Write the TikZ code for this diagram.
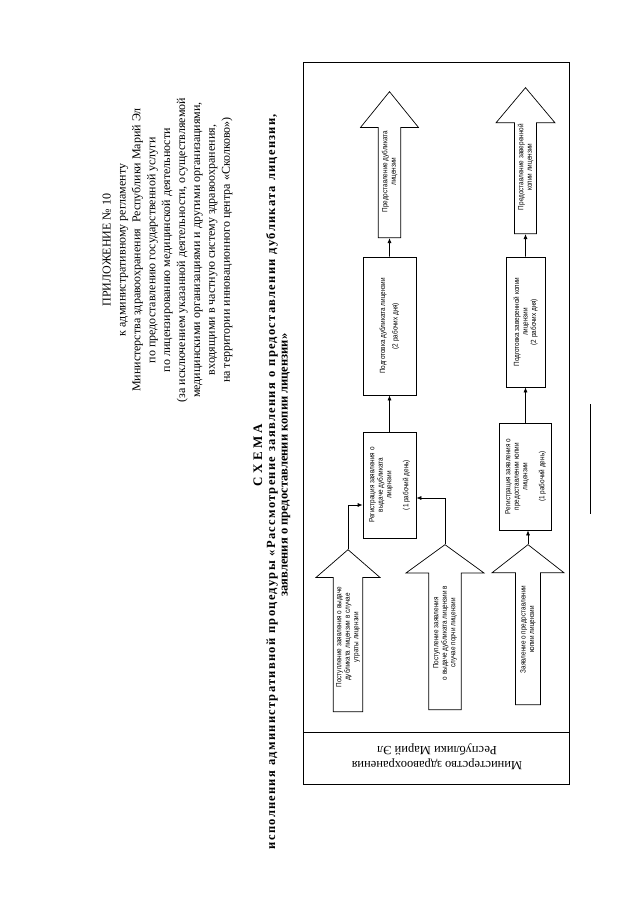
\documentclass[tikz,border=0pt]{standalone}
\usepackage{fontspec}
\setmainfont{Liberation Serif}
\newfontfamily\narrowfont[FakeStretch=0.85]{Liberation Sans}
\newfontfamily\widefont[LetterSpace=10]{Liberation Serif}
\usetikzlibrary{arrows.meta, positioning, shapes.arrows}

\begin{document}
\begin{tikzpicture}[
    x=1pt, y=-1pt,
    proc/.style={draw, line width=0.7pt, rotate=90, align=center, inner sep=2pt,
                 font=\narrowfont\fontsize{7.5}{8.5}\selectfont},
    bigarrow/.style={draw, line width=0.7pt, single arrow, rotate=90, anchor=tail,
                 align=center, inner sep=1pt, font=\narrowfont\fontsize{7.5}{8.5}\selectfont},
    hdr/.style={rotate=90, align=center, font=\fontsize{12}{14.9}\selectfont},
    link/.style={->, line width=0.7pt},
    >={Latex[length=5pt,width=4pt]}
]
\useasboundingbox (0,0) rectangle (640,905);

% heading
\node[hdr] (annex) at (167.5,250) {ПРИЛОЖЕНИЕ № 10\\
к административному регламенту\\
Министерства здравоохранения\ \ Республики Марий Эл\\
по предоставлению государственной услуги\\
по лицензированию медицинской деятельности\\
(за исключением указанной деятельности, осуществляемой\\
медицинскими организациями и другими организациями,\\
входящими в частную систему здравоохранения,\\
на территории инновационного центра «Сколково»)};

\node[hdr, font=\bfseries\fontsize{13}{14}\selectfont] (schema) at (258,455) {С Х Е М А};
\node[hdr, font=\widefont\bfseries\fontsize{12.5}{14}\selectfont] (title) at (272,481.5)
  {\makebox[735pt][s]{исполнения административной процедуры «Рассмотрение заявления о предоставлении дубликата лицензии,}};
\node[hdr, font=\bfseries\fontsize{12.5}{14}\selectfont] (title2) at (286,465)
  {заявления о предоставлении копии лицензии»};

% lane
\draw[line width=0.7pt] (303,62) rectangle (569,784);
\draw[line width=0.7pt] (303,732) -- (569,732);
\node[rotate=180, align=center, font=\fontsize{12.5}{15}\selectfont] (ministry) at (437,757)
  {Министерство здравоохранения\\Республики Марий Эл};

% inputs
\node[bigarrow, minimum height=162pt, minimum width=64pt, single arrow head extend=15.5pt,
      single arrow tip angle=98] (in1) at (348,712)
  {Поступление заявления о выдаче\\дубликата лицензии в случае\\утраты лицензии};
\node[bigarrow, minimum height=165pt, minimum width=78pt, single arrow head extend=18.5pt,
      single arrow tip angle=108] (in2) at (445,710)
  {Поступление заявления\\о выдаче дубликата лицензии в\\случае порчи лицензии};
\node[bigarrow, minimum height=160pt, minimum width=72pt, single arrow head extend=17pt,
      single arrow tip angle=104] (in3) at (528,705)
  {Заявление о предоставлении\\копии лицензии};

% steps
\node[proc, minimum width=106pt, minimum height=53pt] (reg1) at (389.5,485)
  {Регистрация заявления о\\выдаче дубликата\\лицензии\\[8.5pt](1 рабочий день)};
\node[proc, minimum width=138pt, minimum height=53pt] (prep1) at (389.5,326)
  {Подготовка дубликата лицензии\\[4pt](2 рабочих дня)};
\node[proc, minimum width=107pt, minimum height=52pt] (reg2) at (525.5,476.5)
  {Регистрация заявления о\\предоставлении копии\\лицензии\\[8.5pt](1 рабочий день)};
\node[proc, minimum width=130pt, minimum height=39pt] (prep2) at (525.5,322)
  {Подготовка заверенной копии\\лицензии\\(2 рабочих дня)};

% outputs
\node[bigarrow, minimum height=146pt, minimum width=58pt, single arrow head extend=14.5pt,
      single arrow tip angle=78] (out1) at (389.5,238)
  {Предоставление дубликата\\лицензии};
\node[bigarrow, minimum height=146pt, minimum width=59pt, single arrow head extend=15.5pt,
      single arrow tip angle=80] (out2) at (525.5,234)
  {Предоставление заверенной\\копии лицензии};

\foreach \a/\b in {reg1/prep1, prep1/out1, reg2/prep2, prep2/out2}
  \draw[link] (\a) -- (\b);
\draw[link] (in1.tip) |- ([yshift=-20pt]reg1.north);
\draw[link] (in2.tip) |- ([yshift=-13pt]reg1.south);
\draw[link] (in3.tip) -- (in3.tip |- reg2.west);

% signature line
\draw[line width=0.6pt] (590,404) -- (590,514);

\end{tikzpicture}
\end{document}
